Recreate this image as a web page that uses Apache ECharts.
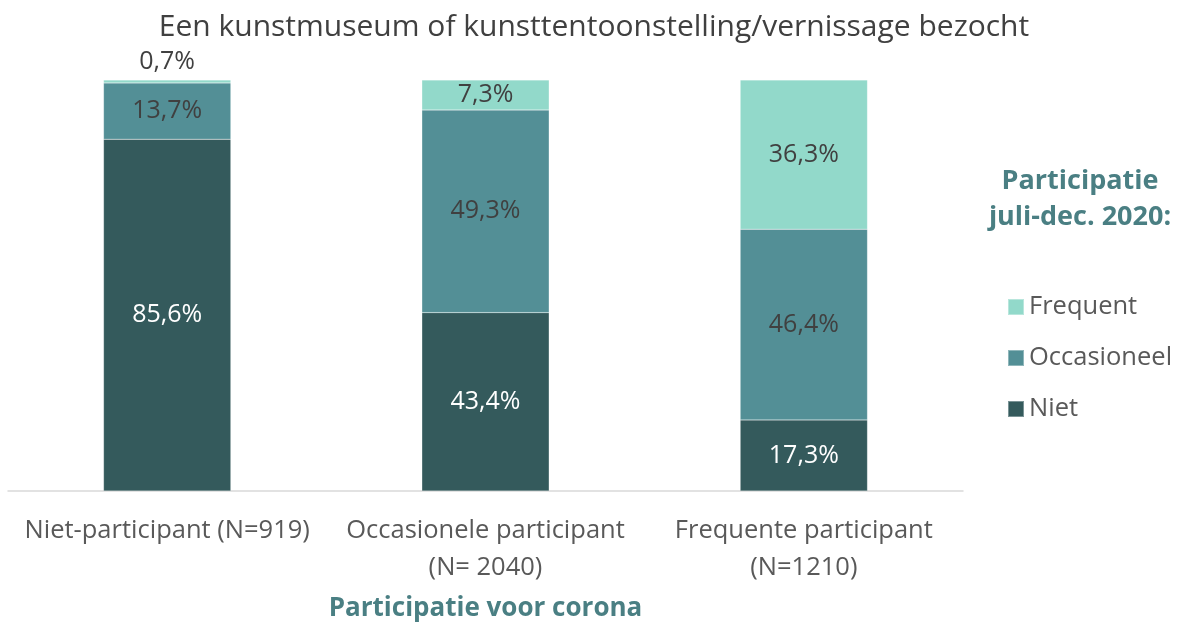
<!DOCTYPE html>
<html>
<head>
<meta charset="utf-8">
<script src="https://cdn.jsdelivr.net/npm/echarts@6/dist/echarts.min.js"></script>
<style>html,body{margin:0;padding:0;background:#fff;}#c{width:1179px;height:627px;}</style>
</head>
<body>
<div id="c"></div>
<script>
const categories = ['Niet-participant (N=919)', 'Occasionele participant\n(N= 2040)', 'Frequente participant\n(N=1210)'];
const seriesNames = ['Niet', 'Occasioneel', 'Frequent'];
const niet = [85.6, 43.4, 17.3];
const occasioneel = [13.7, 49.3, 46.4];
const frequent = [0.7, 7.3, 36.3];

const FONT = 'Open Sans';
const colors = ['#345A5C', '#538F96', '#92D9CA'];
const labelColors = ['#ffffff', '#404040', '#404040'];
const fmt = p => p.value.toFixed(1).replace('.', ',') + '%';

function mkData(arr) {
  return arr.map(v => v < 3 ? { value: v, label: { position: 'top', distance: 6 } } : v);
}

const chart = echarts.init(document.getElementById('c'));
const allData = [niet, occasioneel, frequent];
chart.setOption({
  animation: false,
  textStyle: { fontFamily: FONT },
  title: {
    text: 'Een kunstmuseum of kunsttentoonstelling/vernissage bezocht',
    left: 589, textAlign: 'center', top: 7,
    textStyle: { fontFamily: FONT, fontSize: 30, fontWeight: 'normal', color: '#404040' }
  },
  legend: {
    data: ['Frequent', 'Occasioneel', 'Niet'],
    orient: 'vertical', left: 1002, top: 289,
    itemWidth: 16, itemHeight: 16, itemGap: 25,
    icon: 'rect',
    textStyle: { fontFamily: FONT, fontSize: 25.5, color: '#595959', padding: [0, 0, 0, 0] }
  },
  graphic: [{
    type: 'text',
    style: {
      text: 'Participatie\njuli-dec. 2020:',
      x: 1080, y: 163, textAlign: 'center',
      font: 'bold 27px "' + FONT + '"', fill: '#4A7F83', lineHeight: 36
    }
  }],
  grid: { left: 8, right: 216, top: 80, bottom: 134, containLabel: false },
  xAxis: {
    type: 'category', data: categories,
    axisLine: { lineStyle: { color: '#D9D9D9', width: 1.5 } },
    axisTick: { show: false },
    axisLabel: { fontFamily: FONT, fontSize: 25.5, color: '#595959', margin: 21, lineHeight: 37, interval: 0 },
    name: 'Participatie voor corona', nameLocation: 'middle', nameGap: 105,
    nameTextStyle: { fontFamily: FONT, fontSize: 26, fontWeight: 'bold', color: '#4A7F83' }
  },
  yAxis: {
    type: 'value', min: 0, max: 100, show: false, splitLine: { show: false }
  },
  series: allData.map((arr, i) => ({
    name: seriesNames[i], type: 'bar', stack: 'total', barWidth: '40%',
    data: mkData(arr),
    itemStyle: { color: colors[i], borderColor: 'rgba(255,255,255,0.35)', borderWidth: 0.5 },
    label: { show: true, position: 'inside', formatter: fmt, fontFamily: FONT, fontSize: 25, color: labelColors[i] }
  }))
});
</script>
</body>
</html>
